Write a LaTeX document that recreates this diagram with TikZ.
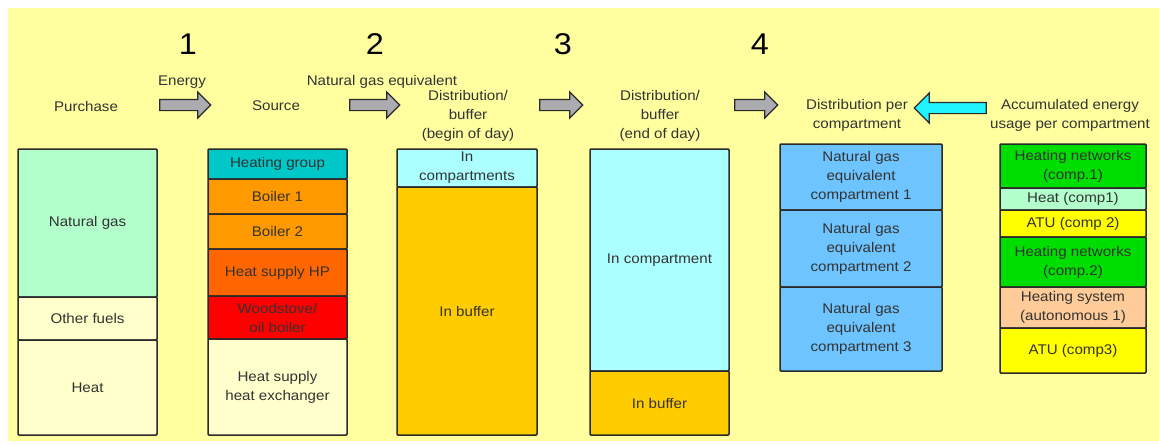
\documentclass[tikz,border=0pt]{standalone}
\usepackage{fontspec}
\setmainfont[FakeStretch=1.08]{Liberation Sans}
\usetikzlibrary{shapes.arrows}
\definecolor{bgyellow}{HTML}{FFFF9F}
\definecolor{mint}{HTML}{B3FFCC}
\definecolor{cream}{HTML}{FFFFCC}
\definecolor{teal}{HTML}{00C8C8}
\definecolor{orangeA}{HTML}{FF9900}
\definecolor{orangeB}{HTML}{FF6600}
\definecolor{redA}{HTML}{FF0000}
\definecolor{lcyan}{HTML}{ABFFFF}
\definecolor{buffer}{HTML}{FFCC00}
\definecolor{lblue}{HTML}{6EC4FF}
\definecolor{greenA}{HTML}{00DD00}
\definecolor{peach}{HTML}{FFCC99}
\definecolor{yellowA}{HTML}{FFFF00}
\definecolor{txt}{HTML}{333333}
\definecolor{edge}{HTML}{2A2A2A}
\definecolor{arrgray}{HTML}{ABABB0}
\definecolor{arrcyan}{HTML}{22F4FF}
\begin{document}
\begin{tikzpicture}[x=1pt,y=-1pt,
  seg/.style={draw=edge, line width=1.5pt, rounded corners=1pt, inner sep=0pt,
    align=center, text=txt, font=\fontsize{14}{19}\selectfont},
  lbl/.style={align=center, text=txt, inner sep=0pt, font=\fontsize{14}{19}\selectfont},
  num/.style={text=black, inner sep=0pt, font=\fontsize{30}{32}\selectfont},
  blockarrow/.style={single arrow, draw=edge, line width=1.2pt, fill=arrgray,
    inner sep=5pt, single arrow head extend=7.5pt, single arrow tip angle=90},
  cyanarrow/.style={single arrow, draw=edge, line width=1.2pt, fill=arrcyan,
    inner sep=5pt, single arrow head extend=9.5pt, single arrow tip angle=90,
    shape border rotate=180}]
\useasboundingbox (0,0) rectangle (1159,445);
\fill[white] (0,0) rectangle (1159,445);
\fill[bgyellow] (8,8) rectangle (1159,441);

% numbers
\node[num] (n1) at (188,44) {1};
\node[num] (n2) at (375,44) {2};
\node[num] (n3) at (563,44) {3};
\node[num] (n4) at (760,44) {4};

% headings
\node[lbl] (energy) at (182,82) {Energy};
\node[lbl] (purchase) at (86,106) {Purchase};
\node[lbl] (source) at (276,106) {Source};
\node[lbl] (nge) at (382,82) {Natural gas equivalent};
\node[lbl] (dbb) at (468,116) {Distribution/\\buffer\\(begin of day)};
\node[lbl] (dbe) at (660,116) {Distribution/\\buffer\\(end of day)};
\node[lbl] (dpc) at (857,115.5) {Distribution per\\compartment};
\node[lbl] (acc) at (1070,115.5) {Accumulated energy\\usage per compartment};

% block arrows
\node[blockarrow, minimum height=51pt] (a1) at (182.5,105) {};
\node[blockarrow, minimum height=50pt] (a2) at (372,105) {};
\node[blockarrow, minimum height=43pt] (a3) at (558.5,105) {};
\node[blockarrow, minimum height=43pt] (a4) at (753.5,105) {};
\node[cyanarrow, minimum height=72pt] (a5) at (953,108) {};

% column 1: purchase
\node[seg, fill=mint, minimum width=139pt, minimum height=148pt] (c1a) at (87.5,223) {Natural gas};
\node[seg, fill=cream, minimum width=139pt, minimum height=43pt] (c1b) at (87.5,318.5) {Other fuels};
\node[seg, fill=cream, minimum width=139pt, minimum height=95pt] (c1c) at (87.5,387.5) {Heat};

% column 2: source
\node[seg, fill=teal, minimum width=139pt, minimum height=30pt] (c2a) at (277.5,164) {Heating group};
\node[seg, fill=orangeA, minimum width=139pt, minimum height=35pt] (c2b) at (277.5,196.5) {Boiler 1};
\node[seg, fill=orangeA, minimum width=139pt, minimum height=35pt] (c2c) at (277.5,231.5) {Boiler 2};
\node[seg, fill=orangeB, minimum width=139pt, minimum height=47pt] (c2d) at (277.5,272.5) {Heat supply HP};
\node[seg, fill=redA, minimum width=139pt, minimum height=43pt] (c2e) at (277.5,317.5) {Woodstove/\\oil boiler};
\node[seg, fill=cream, minimum width=139pt, minimum height=96pt] (c2f) at (277.5,387) {Heat supply\\heat exchanger};

% column 3: begin of day
\node[seg, fill=lcyan, minimum width=140pt, minimum height=38pt] (c3a) at (467,168) {In\\compartments};
\node[seg, fill=buffer, minimum width=140pt, minimum height=248pt] (c3b) at (467,311) {In buffer};

% column 4: end of day
\node[seg, fill=lcyan, minimum width=139pt, minimum height=222pt] (c4a) at (659.5,260) {In compartment};
\node[seg, fill=buffer, minimum width=139pt, minimum height=64pt] (c4b) at (659.5,403) {In buffer};

% column 5: per compartment
\node[seg, fill=lblue, minimum width=162pt, minimum height=66pt] (c5a) at (861,177) {Natural gas\\equivalent\\compartment 1};
\node[seg, fill=lblue, minimum width=162pt, minimum height=77pt] (c5b) at (861,248.5) {Natural gas\\equivalent\\compartment 2};
\node[seg, fill=lblue, minimum width=162pt, minimum height=84pt] (c5c) at (861,329) {Natural gas\\equivalent\\compartment 3};

% column 6: accumulated usage
\node[seg, fill=greenA, minimum width=146pt, minimum height=44pt] (c6a) at (1073,166) {Heating networks\\(comp.1)};
\node[seg, fill=mint, minimum width=146pt, minimum height=22pt] (c6b) at (1073,199) {Heat (comp1)};
\node[seg, fill=yellowA, minimum width=146pt, minimum height=27pt] (c6c) at (1073,223.5) {ATU (comp 2)};
\node[seg, fill=greenA, minimum width=146pt, minimum height=50pt] (c6d) at (1073,262) {Heating networks\\(comp.2)};
\node[seg, fill=peach, minimum width=146pt, minimum height=41pt] (c6e) at (1073,307.5) {Heating system\\(autonomous 1)};
\node[seg, fill=yellowA, minimum width=146pt, minimum height=45pt] (c6f) at (1073,350.5) {ATU (comp3)};
\end{tikzpicture}
\end{document}
